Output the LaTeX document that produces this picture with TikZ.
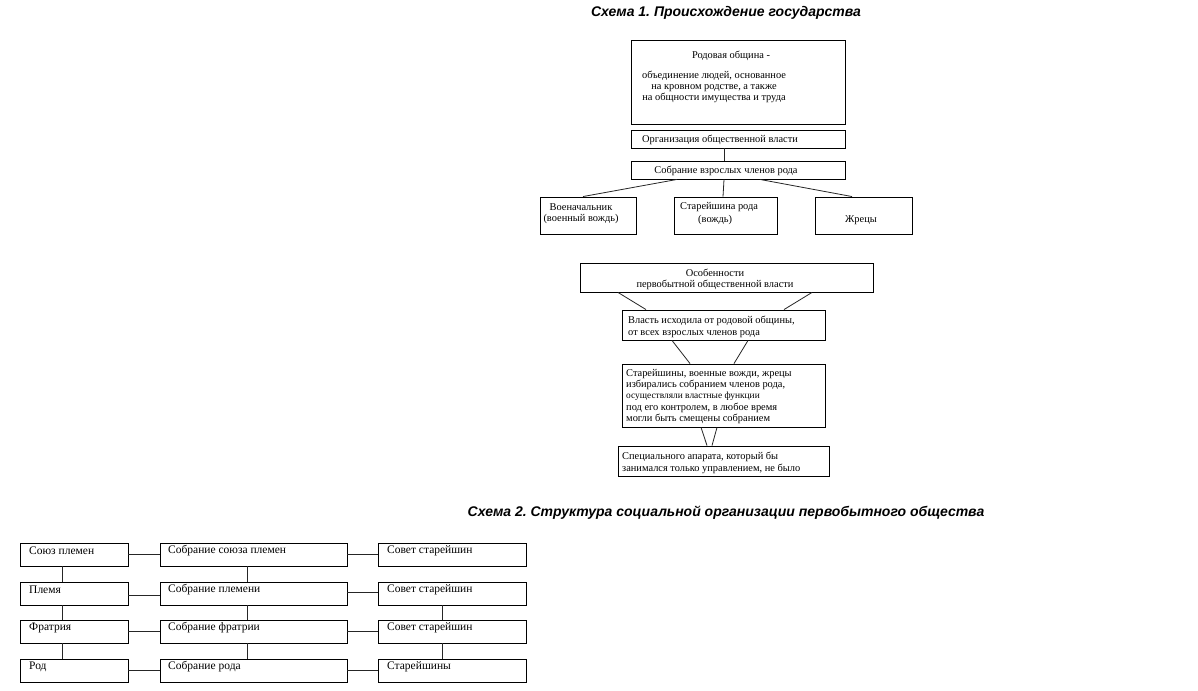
\documentclass[tikz,border=0pt]{standalone}
\usepackage{fontspec}
\setmainfont{Liberation Serif}
\newfontfamily\titlefont{Liberation Sans}
\usetikzlibrary{fit,calc}
\frenchspacing
\tikzset{
  box/.style={draw=black, line width=0.9pt, inner sep=0pt},
  conn/.style={draw=black!85, line width=0.8pt},
  txa/.style={inner sep=0pt, font=\fontsize{10.4}{11}\selectfont},
  txb/.style={inner sep=0pt, font=\fontsize{11.5}{13}\selectfont},
  ttl/.style={inner sep=0pt, font=\titlefont\bfseries\itshape\fontsize{14}{16}\selectfont}
}
\begin{document}
\begin{tikzpicture}[x=1pt,y=-1pt]
\useasboundingbox[fill=white] (0,0) rectangle (1198,690);

% ---------- Scheme 1 ----------
\node[ttl] (title1) at (726,13) {Схема 1. Происхождение государства};

\node[box, fit={(631,40)(845,124)}] (rod) {};
\node[txa] (rodt1) at (731,56) {Родовая община -};
\node[txa, align=center] (rodt2) at (714,86.5) {объединение людей, основанное\\на кровном родстве, а также\\на общности имущества и труда};

\node[box, fit={(631,130)(845,148)}] (org) {};
\node[txa] (orgt) at (720,140) {Организация общественной власти};

\node[box, fit={(631,161)(845,179)}] (sob) {};
\node[txa] (sobt) at (726,170.5) {Собрание взрослых членов рода};

\node[box, fit={(540,197)(636,234)}] (voen) {};
\node[txa, align=center] (voent) at (581,213.5) {Военачальник\\(военный вождь)};

\node[box, fit={(674,197)(777,234)}] (star) {};
\node[txa, align=left, anchor=west, font=\fontsize{10.4}{13}\selectfont] (start) at (680,214) {Старейшина рода\\\hspace*{18pt}(вождь)};

\node[box, fit={(815,197)(912,234)}] (zhr) {};
\node[txa] (zhrt) at (861,220) {Жрецы};

\draw[conn] ([xshift=-14pt]org.south) -- ([xshift=-14pt]sob.north);
\draw[conn] ([xshift=-61pt]sob.south) -- ([xshift=-5pt]voen.north);
\draw[conn] ([xshift=-14pt]sob.south) -- ([xshift=-2.5pt]star.north);
\draw[conn] ([xshift=22pt]sob.south) -- ([xshift=-11.5pt]zhr.north);

% lower part
\node[box, fit={(580,263)(873,292)}] (osob) {};
\node[txa, align=center] (osobt) at (715,279.5) {Особенности\\первобытной общественной власти};

\node[box, fit={(622,310)(825,340)}] (vlast) {};
\node[txa, align=left, anchor=west, font=\fontsize{10.4}{12}\selectfont] (vlastt) at (628,326.5) {Власть исходила от родовой общины,\\от всех взрослых членов рода};

\node[box, fit={(622,364)(825,427)}] (star2) {};
\node[txa, align=left, anchor=west, font=\fontsize{10.4}{11.3}\selectfont] (star2t) at (626,396.5) {Старейшины, военные вожди, жрецы\\избирались собранием членов рода,\\{\fontsize{9.4}{11.3}\selectfont осуществляли властные функции}\\под его контролем, в любое время\\могли быть смещены собранием};

\node[box, fit={(618,446)(829,476)}] (spec) {};
\node[txa, align=left, anchor=west, font=\fontsize{10.4}{12}\selectfont] (spect) at (622,462.5) {Специального апарата, который бы\\занимался только управлением, не было};

\draw[conn] ([xshift=-108.5pt]osob.south) -- ([xshift=-77.5pt]vlast.north);
\draw[conn] ([xshift=85.5pt]osob.south) -- ([xshift=60.5pt]vlast.north);
\draw[conn] ([xshift=-51.5pt]vlast.south) -- ([xshift=-33.5pt]star2.north);
\draw[conn] ([xshift=24.5pt]vlast.south) -- ([xshift=10.5pt]star2.north);
\draw[conn] ([xshift=-22.5pt]star2.south) -- ([xshift=-16.5pt]spec.north);
\draw[conn] ([xshift=-6.5pt]star2.south) -- ([xshift=-11.5pt]spec.north);

% ---------- Scheme 2 ----------
\node[ttl] (title2) at (726,513) {Схема 2. Структура социальной организации первобытного общества};

\foreach \r/\ya/\yb in {1/543/566, 2/582/605, 3/620/643, 4/659/682}{
  \node[box, fit={(20,\ya)(128,\yb)}] (a\r) {};
  \node[box, fit={(160,\ya)(347,\yb)}] (b\r) {};
  \node[box, fit={(378,\ya)(526,\yb)}] (c\r) {};
}
\node[txb, anchor=west] (a1t) at (29,551) {Союз племен};
\node[txb, anchor=west] (a2t) at (29,589.5) {Племя};
\node[txb, anchor=west] (a3t) at (29,628) {Фратрия};
\node[txb, anchor=west] (a4t) at (29,666.5) {Род};
\node[txb, anchor=west] (b1t) at (168,551) {Собрание союза племен};
\node[txb, anchor=west] (b2t) at (168,589.5) {Собрание племени};
\node[txb, anchor=west] (b3t) at (168,628) {Собрание фратрии};
\node[txb, anchor=west] (b4t) at (168,666.5) {Собрание рода};
\node[txb, anchor=west] (c1t) at (387,551) {Совет старейшин};
\node[txb, anchor=west] (c2t) at (387,589.5) {Совет старейшин};
\node[txb, anchor=west] (c3t) at (387,628) {Совет старейшин};
\node[txb, anchor=west] (c4t) at (387,666.5) {Старейшины};

% horizontal connectors
\draw[conn] (a1.east) -- (b1.west);
\draw[conn] ([yshift=-1.5pt]a2.east) -- ([yshift=-1.5pt]b2.west);
\draw[conn] (a3.east) -- (b3.west);
\draw[conn] (a4.east) -- (b4.west);
\draw[conn] (b1.east) -- (c1.west);
\draw[conn] ([yshift=1.5pt]b2.east) -- ([yshift=1.5pt]c2.west);
\draw[conn] (b3.east) -- (c3.west);
\draw[conn] (b4.east) -- (c4.west);
% vertical connectors
\draw[conn] ([xshift=-12pt]a1.south) -- ([xshift=-12pt]a2.north);
\draw[conn] ([xshift=-12pt]a2.south) -- ([xshift=-12pt]a3.north);
\draw[conn] ([xshift=-12pt]a3.south) -- ([xshift=-12pt]a4.north);
\draw[conn] ([xshift=-6.5pt]b1.south) -- ([xshift=-6.5pt]b2.north);
\draw[conn] ([xshift=-6.5pt]b2.south) -- ([xshift=-6.5pt]b3.north);
\draw[conn] ([xshift=-6.5pt]b3.south) -- ([xshift=-6.5pt]b4.north);
\draw[conn] ([xshift=-10pt]c2.south) -- ([xshift=-10pt]c3.north);
\draw[conn] ([xshift=-10pt]c3.south) -- ([xshift=-10pt]c4.north);
\end{tikzpicture}
\end{document}
